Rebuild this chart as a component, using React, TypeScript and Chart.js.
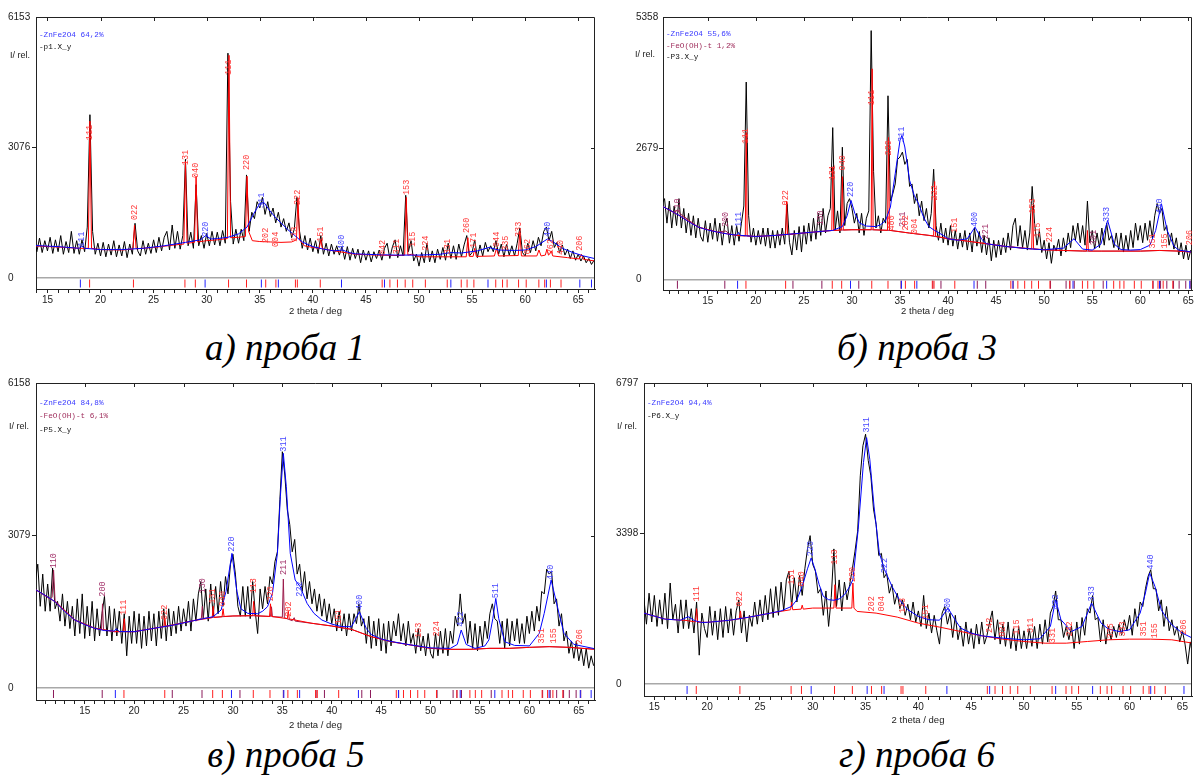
import { useEffect, useRef } from "react";
import { Chart, registerables } from "chart.js";

Chart.register(...registerables);
Chart.defaults.font.family = '"Liberation Sans", Arial, sans-serif';

type Pt = [number, number];
type Label = [string, number, number, string];

const STEP = 0.25;

// ---------- reflection positions (2 theta, deg) ----------
const REFL_ZNFE2O4 = [18.1, 29.85, 35.15, 36.75, 42.7, 46.75, 53.0, 56.5, 62.0, 65.15, 66.25];
const REFL_PHASE2 = [18.97, 23.1, 27.95, 28.93, 32.06, 33.75, 35.56, 36.52, 38.36, 38.54, 40.7, 46.53, 47.26, 47.97, 48.7, 49.41, 50.6, 52.66, 53.98, 54.53, 55.17, 57.23, 57.87, 58.3, 59.38, 60.1, 61.29, 61.84, 62.38, 63.38];
const REFL_FEOOH = [11.84, 16.77, 23.86, 26.87, 30.71, 35.1, 38.42, 39.26, 43.04, 43.92, 46.77, 50.66, 52.28, 52.67, 53.13, 56.14, 61.34, 62.11, 62.76, 63.46, 64.04, 64.73, 65.2];

// ---------- panel a (проба 1) ----------
const A_START = 13.75;
const A_MEAS = [900,
  620, 940, 600, 880, 640, 960, 580, 900, 620, 1000, 560, 860, 600, 1100, 580, 880,
  560, 900, 620, 1200, 3850, 1100, 560, 820, 520, 840, 500, 800, 540, 880, 500, 780,
  520, 860, 480, 800, 560, 1290, 640, 520, 880, 560, 820, 580, 900, 600, 960, 640,
  960, 1100, 660, 1250, 700, 1100, 680, 1000, 2800, 760, 1080, 700, 2200, 760, 1000, 700,
  1050, 760, 1100, 780, 1080, 760, 1120, 820, 5300, 1800, 800, 1150, 820, 1150, 880, 2430,
  1100, 1550, 1400, 1800, 1650, 1900, 1500, 1800, 1450, 1650, 1300, 1550, 1200, 1400, 1100, 1300,
  950, 1150, 1900, 1100, 700, 1000, 660, 940, 620, 880, 580, 1000, 560, 820, 520, 800,
  560, 760, 540, 740, 440, 740, 420, 700, 460, 680, 360, 660, 420, 640, 380, 620,
  460, 660, 420, 700, 820, 460, 740, 900, 480, 760, 520, 1950, 620, 880, 400, 560,
  280, 600, 360, 820, 380, 640, 360, 680, 440, 720, 420, 820, 460, 760, 440, 800,
  500, 780, 1000, 520, 600, 900, 480, 780, 520, 840, 620, 760, 620, 880, 560, 800,
  500, 800, 540, 760, 520, 820, 1180, 600, 520, 820, 600, 880, 640, 960, 760, 1100,
  1200, 880, 1100, 720, 840, 600, 780, 540, 680, 460, 640, 420, 560, 400, 520, 360,
  460, 320, 420, 360];
const A_BLUE: Pt[] = [[13.9,765],[16,740],[18,700],[18.2,760],[18.5,700],[20,670],[22,670],[24,700],[26,760],[28,840],[29.4,900],[29.9,1000],[30.4,920],[31,930],[32,960],[33,1040],[33.8,1200],[34.4,1500],[35.0,1760],[35.4,1780],[35.9,1600],[36.5,1420],[37,1300],[37.6,1150],[38.3,1000],[39,850],[40,740],[41,680],[42,640],[42.8,660],[43.4,600],[44,570],[46,550],[48,540],[50,540],[52,560],[53,600],[54,590],[55.5,640],[56.6,720],[57.5,660],[59,650],[60,660],[61,740],[62.1,920],[62.6,860],[63.5,700],[64.5,600],[65.5,520],[66.6,455]];
const A_RED: Pt[] = [[13.9,755],[16,730],[18,700],[18.85,700],[19.0,3700],[19.15,700],[20,670],[22,660],[23.05,680],[23.2,1250],[23.35,690],[25,720],[27,780],[27.85,800],[28.0,2750],[28.15,820],[28.85,840],[29.0,2400],[29.15,850],[30,880],[31,900],[31.95,930],[32.1,5250],[32.25,950],[33,960],[33.65,980],[33.8,2400],[33.95,1100],[34.3,880],[35,860],[36,850],[37,840],[38,850],[38.45,900],[38.6,1880],[38.75,900],[39.2,760],[40,720],[40.6,700],[40.75,900],[40.9,690],[42,640],[44,560],[46,540],[48,530],[48.65,540],[48.8,1900],[48.95,540],[49.3,560],[50,500],[52,500],[54.45,500],[54.6,950],[54.75,510],[55.1,510],[55.25,700],[55.4,510],[57.1,520],[57.3,700],[57.5,520],[59.35,530],[59.5,1100],[59.65,520],[61.1,520],[61.3,660],[61.5,520],[61.9,540],[62.05,680],[62.2,540],[62.3,560],[62.45,640],[62.6,520],[64,480],[65.1,450],[65.3,560],[65.5,440],[66.6,400]];
const A_LABELS: Label[] = [
  ["111",18.2,730,"b"],["220",29.9,970,"b"],["311",35.2,1650,"b"],["400",42.7,660,"b"],["440",62.1,966,"b"],
  ["111",19.0,3250,"r"],["022",23.2,1367,"r"],["131",28.0,2660,"r"],["040",29.0,2357,"r"],["111",32.1,4785,"r"],["220",33.8,2546,"r"],
  ["202",35.6,825,"r"],["004",36.5,730,"r"],["113",38.3,850,"r"],["222",38.6,1720,"r"],["151",40.7,850,"r"],["042",46.6,540,"r"],
  ["311",47.9,560,"r"],["153",48.8,1956,"r"],["115",49.4,730,"r"],["224",50.6,640,"r"],["331",52.7,560,"r"],["260",54.5,1060,"r"],
  ["171",55.2,707,"r"],["044",57.3,730,"r"],["335",58.2,640,"r"],["333",59.4,966,"r"],["062",60.2,560,"r"],["262",62.45,560,"r"],
  ["440",63.4,540,"r"],["206",65.1,640,"r"]];

// ---------- panel b (проба 3) ----------
const B_START = 10.25;
const B_MEAS = [1550,
  1650, 1150, 1600, 1050, 1500, 1100, 1650, 1050, 1450, 950, 1350, 900, 1300, 850, 1250, 880,
  780, 1200, 760, 1150, 820, 1250, 780, 1150, 700, 1100, 1250, 740, 1100, 700, 1100, 780,
  1150, 1500, 4030, 1300, 760, 1050, 700, 1000, 720, 1050, 680, 1050, 640, 1000, 640, 1000,
  700, 1050, 720, 1550, 760, 500, 1000, 600, 1080, 560, 1100, 720, 1150, 780, 1250, 820,
  1350, 900, 1450, 950, 1300, 1450, 3100, 1000, 1400, 950, 2700, 1100, 1550, 1650, 1450, 1150,
  1350, 950, 1350, 900, 1250, 1400, 5080, 2200, 1050, 1300, 950, 1250, 1150, 3750, 1600, 1750,
  1950, 2450, 2500, 2600, 2350, 2450, 1900, 1950, 1550, 1750, 1300, 1600, 1200, 1450, 1050, 1350,
  2250, 1100, 800, 1150, 750, 1050, 700, 1100, 680, 1000, 620, 950, 660, 1000, 600, 950,
  560, 1050, 680, 980, 550, 900, 500, 850, 380, 800, 450, 800, 500, 850, 550, 950,
  600, 1100, 1250, 680, 1100, 650, 1000, 600, 950, 1900, 1150, 700, 1000, 550, 800, 420,
  750, 330, 700, 580, 820, 480, 850, 560, 950, 650, 1100, 800, 1150, 750, 1100, 700,
  1600, 750, 1000, 620, 950, 650, 1050, 700, 1150, 800, 900, 650, 950, 600, 950, 560,
  900, 600, 1000, 650, 1150, 800, 1100, 750, 1150, 800, 1200, 850, 1300, 1550, 1350, 1450,
  1000, 1100, 700, 950, 620, 850, 500, 750, 420, 700, 400, 600];
const B_BLUE: Pt[] = [[10.3,1490],[11,1420],[12,1310],[13,1180],[14,1070],[15,1010],[16,967],[17,930],[18,905],[18.2,960],[18.4,900],[20,878],[22,899],[24,933],[26,967],[27,985],[28,1001],[29,1080],[29.5,1300],[29.9,1614],[30.3,1350],[30.8,1150],[31.5,1090],[32.5,1080],[33,1120],[33.5,1205],[34,1478],[34.5,2159],[35,2840],[35.2,2942],[35.5,2704],[36,2023],[36.5,1700],[36.9,1560],[37.5,1250],[38,1080],[38.6,1000],[39.5,900],[40,831],[41,800],[42,830],[42.8,1069],[43.5,820],[44,729],[45,700],[46,674],[48,633],[50,606],[52,640],[53.1,831],[54,620],[55,600],[55.9,720],[56.6,1205],[57.3,720],[58,610],[59,600],[60,610],[61,700],[61.6,1000],[62.2,1546],[62.8,1000],[63.5,680],[64,600],[65.4,558]];
const B_MAROON: Pt[] = [[10.3,1490],[11.5,1370],[11.85,1420],[12.2,1330],[14,1069],[16,967],[16.9,990],[17.2,930],[18,899],[20,878],[22,899],[24,933],[26,967],[28,1001],[30,1015],[32,1015],[34,1001],[36,947],[38,899],[40,831],[42,783],[44,729],[46,674],[48,633],[50,606],[52,592],[54,579],[56,579],[58,579],[60,579],[62,592],[64,579],[65.4,558]];
const B_RED: Pt[] = [[10.3,1490],[12,1310],[14,1069],[16,967],[18,899],[18.9,890],[19.0,3000],[19.1,890],[20,878],[22,899],[23.1,915],[23.2,1600],[23.3,915],[26,967],[27.9,1000],[28.0,2300],[28.1,1000],[28.9,1010],[29.0,2100],[29.1,1010],[30,1015],[32.0,1015],[32.1,4300],[32.2,1015],[33.7,1003],[33.8,2900],[33.9,1003],[36,947],[38.5,890],[38.6,2000],[38.7,885],[40,831],[42,783],[44,729],[46,674],[48,640],[48.7,625],[48.8,1500],[48.9,625],[50,606],[52,592],[54.4,580],[54.5,1000],[54.6,580],[56,579],[60,579],[62,592],[64,579],[65.4,558]];
const B_LABELS: Label[] = [
  ["110",11.85,1341,"p"],["200",16.9,1069,"p"],["130",26.8,1100,"p"],["211",35.3,1070,"p"],["221",43.9,820,"p"],["301",55.2,700,"p"],
  ["111",19.0,2772,"r"],["022",23.15,1512,"r"],["131",28.0,2023,"r"],["040",29.0,2227,"r"],["111",32.1,3555,"r"],["220",33.8,2533,"r"],
  ["400",34.1,1000,"r"],["202",35.6,1000,"r"],["004",36.5,930,"r"],["222",38.6,1614,"r"],["151",40.7,950,"r"],["153",48.8,1341,"r"],
  ["115",49.3,850,"r"],["224",50.6,760,"r"],["351",61.3,630,"r"],["155",62.5,630,"r"],["206",65.1,700,"r"],
  ["111",18.2,1069,"b"],["220",29.9,1682,"b"],["311",35.2,2806,"b"],["400",42.8,1069,"b"],["333",56.5,1171,"b"],["440",62.0,1340,"b"]];

// ---------- panel c (проба 5) ----------
const C_START = 10.0;
const C_MEAS = [2150,
  2500, 1650, 2300, 1550, 2100, 1550, 2420, 1600, 1750, 1350, 1900, 1250, 1750, 1200, 1650, 1050,
  1800, 1100, 1900, 1000, 1650, 1050, 1750, 950, 1600, 1050, 1500, 1850, 1050, 1650, 950, 1600,
  1050, 1550, 900, 1500, 650, 1450, 900, 1550, 900, 1500, 800, 1450, 850, 1550, 950, 1500,
  850, 1550, 1000, 1600, 950, 1600, 1050, 1550, 1100, 1650, 1150, 1600, 1250, 1750, 1150, 1800,
  1350, 1900, 2150, 1400, 2000, 1350, 2100, 1450, 2050, 1500, 2150, 1650, 2250, 1900, 2500, 2700,
  2300, 1650, 1450, 2050, 1450, 2050, 1400, 2150, 1550, 1100, 2000, 1600, 2050, 1700, 2250, 2100,
  2550, 2750, 3800, 4770, 4300, 3600, 3300, 2750, 3000, 2300, 2500, 1950, 2350, 1800, 2150, 1700,
  2000, 1550, 1900, 1450, 1800, 1350, 1700, 1300, 1600, 1150, 1550, 1150, 1500, 1050, 1500, 1150,
  1500, 1300, 1700, 1250, 1400, 900, 1450, 800, 1350, 850, 1400, 750, 1300, 700, 1350, 850,
  1350, 1050, 1500, 950, 1300, 850, 1350, 900, 1100, 700, 1200, 750, 1050, 650, 1100, 700,
  600, 1100, 650, 1150, 700, 1200, 650, 1150, 900, 1450, 1250, 1900, 1300, 1500, 900, 1350,
  800, 1300, 750, 1250, 850, 1350, 1000, 1500, 1700, 1400, 1350, 900, 1350, 800, 1400, 850,
  1350, 950, 1400, 900, 1300, 900, 1450, 1100, 1550, 1150, 1650, 1350, 1950, 1900, 2400, 2300,
  2350, 1700, 1800, 1250, 1500, 950, 1150, 700, 950, 600, 950, 550, 800, 450, 800, 400,
  650, 450];
const C_BLUE: Pt[] = [[10.0,1990],[11,1870],[12,1743],[13,1540],[14,1373],[15,1280],[16,1205],[17,1160],[18,1150],[18.2,1200],[18.5,1140],[20,1137],[22,1205],[24,1272],[26,1359],[27,1400],[28,1440],[28.8,1575],[29.3,1950],[29.9,2719],[30.4,1950],[30.8,1600],[31.5,1507],[32.5,1500],[33,1550],[33.5,1642],[34,1911],[34.5,2719],[34.8,3863],[35.1,4738],[35.4,4065],[35.8,2719],[36.3,2180],[36.8,2046],[37.5,1709],[38.2,1507],[39,1373],[40,1290],[41,1240],[42,1238],[42.8,1541],[43.5,1200],[44,1080],[45,990],[46,940],[48,870],[50,810],[52,800],[52.7,880],[53.1,1171],[53.6,880],[54.5,800],[55.5,850],[55.9,970],[56.3,1400],[56.6,1810],[56.9,1400],[57.5,935],[58.5,860],[60,850],[61,1104],[61.5,1507],[62.2,2180],[63,1507],[63.5,1104],[64.5,880],[66.7,790]];
const C_MAROON: Pt[] = [[10.0,1990],[11.5,1800],[11.7,1830],[11.85,2380],[12.0,1760],[13,1560],[14,1373],[16,1210],[16.7,1190],[16.8,1700],[16.9,1180],[18,1137],[20,1137],[22,1205],[24,1272],[26,1359],[26.8,1400],[26.9,1650],[27.0,1405],[28,1427],[30,1454],[32,1460],[33.8,1445],[33.9,1640],[34.0,1440],[35.0,1430],[35.1,2200],[35.2,1420],[36,1359],[36.2,1420],[36.3,1350],[38,1306],[40,1252],[42,1184],[44,1036],[46,935],[48,868],[50,801],[52,781],[54,781],[56,801],[58,801],[60,821],[62,835],[64,821],[66.7,781]];
const C_RED: Pt[] = [[10.0,1990],[12,1743],[14,1373],[16,1205],[18,1137],[18.9,1140],[19.0,1400],[19.1,1137],[20,1137],[22,1205],[23.0,1240],[23.1,1420],[23.2,1245],[26,1359],[27.9,1420],[28.0,1650],[28.1,1425],[28.9,1440],[29.0,1600],[29.1,1445],[30,1454],[32.0,1460],[32.1,1750],[32.2,1460],[33.7,1445],[33.8,1700],[33.9,1445],[35.5,1400],[35.6,1550],[35.7,1395],[38,1306],[40,1252],[42,1184],[44,1036],[46,935],[48,868],[50,801],[52,781],[54,781],[56,801],[58,801],[60,821],[62,835],[64,821],[66.7,781]];
const C_LABELS: Label[] = [
  ["110",11.85,2416,"p"],["200",16.8,1844,"p"],["130",26.9,1911,"p"],["211",35.1,2281,"p"],
  ["111",19.0,1474,"r"],["022",23.1,1373,"r"],["131",28.0,1700,"r"],["040",29.0,1650,"r"],["113",32.1,1911,"r"],["220",33.8,1750,"r"],
  ["202",35.6,1440,"r"],["151",40.7,1280,"r"],["153",48.8,1010,"r"],["224",50.6,1040,"r"],["351",61.3,900,"r"],["155",62.5,900,"r"],["206",65.1,880,"r"],
  ["220",29.9,2753,"b"],["311",35.1,4772,"b"],["222",36.8,1844,"b"],["400",42.8,1575,"b"],["422",53.1,1238,"b"],["511",56.6,1810,"b"],["440",62.2,2180,"b"]];

// ---------- panel d (проба 6) ----------
const D_START = 14.0;
const D_MEAS = [
  1950, 1350, 2050, 1400, 2000, 1300, 1900, 1350, 2050, 1250, 2280, 1450, 1800, 1150, 1900, 1250,
  1900, 1250, 1700, 1150, 1850, 650, 1600, 1250, 1050, 1750, 1100, 1650, 1000, 1700, 1050, 1750,
  1150, 1700, 1100, 1650, 1900, 1150, 1650, 950, 1550, 1300, 1850, 1350, 1900, 1400, 2000, 1450,
  2150, 1500, 2200, 1550, 2300, 1650, 2350, 2550, 1750, 2400, 1850, 2450, 2000, 2600, 3050, 3350,
  2700, 2550, 2050, 2150, 1550, 2100, 1300, 1950, 3050, 1750, 2350, 1650, 2300, 1900, 2250, 2600,
  3000, 3450, 4700, 5380, 5640, 5050, 4700, 3950, 3600, 2900, 2950, 2400, 2500, 2050, 2250, 1800,
  2050, 1700, 1900, 1550, 1800, 1450, 1850, 1400, 1650, 1300, 2000, 1250, 1600, 1150, 1550, 1200,
  900, 1600, 1750, 1350, 1600, 1050, 1550, 1000, 1300, 850, 1400, 900, 1250, 800, 1350, 900,
  1400, 900, 1100, 1400, 1650, 1000, 1450, 900, 1350, 850, 1400, 800, 1250, 750, 1300, 800,
  1200, 800, 1250, 850, 1300, 800, 1350, 900, 1450, 950, 1600, 1750, 2100, 1450, 1450, 1050,
  1300, 1000, 1300, 800, 1400, 900, 1500, 1100, 1700, 1600, 2000, 1450, 1500, 950, 1450, 900,
  1300, 1000, 1300, 1050, 1350, 1100, 1450, 1200, 1550, 1100, 1700, 1300, 1850, 1750, 2150, 2430,
  2580, 2150, 2150, 1650, 1900, 1300, 1750, 1200, 1450, 1100, 1300, 950, 1200, 900, 450, 950,
  600];
const D_BLUE: Pt[] = [[14,1600],[16,1465],[17.5,1440],[18.2,1520],[18.8,1430],[19.5,1389],[20,1392],[22,1435],[24,1510],[26,1600],[27,1650],[28,1752],[28.5,1903],[29,2205],[29.5,2600],[29.85,2846],[30.2,2600],[30.6,2250],[31,1978],[31.5,1903],[32,1890],[32.5,1920],[33,2016],[33.5,2200],[33.8,2356],[34.3,3488],[34.8,4998],[35.1,5564],[35.4,5074],[35.8,4017],[36.3,2960],[36.8,2582],[37.5,2205],[38.2,1903],[39,1676],[40,1525],[41,1450],[42,1440],[42.8,1714],[43.5,1440],[44,1261],[45,1148],[46,1087],[48,1034],[50,997],[51.5,1020],[52.5,1299],[53,1903],[53.5,1450],[54.5,1185],[55.5,1299],[56.4,1827],[57.3,1374],[58,1238],[59,1185],[60,1223],[61,1600],[61.5,2054],[61.9,2507],[62.4,2205],[63,1676],[63.5,1487],[64,1336],[65,1148],[66,1030]];
const D_RED: Pt[] = [[14,1600],[16,1465],[18,1435],[18.9,1400],[19.0,1700],[19.1,1395],[20,1392],[22,1435],[23.05,1470],[23.15,1650],[23.25,1475],[24,1510],[26,1600],[27.9,1676],[28.0,1850],[28.1,1676],[28.9,1690],[29.0,1780],[29.1,1690],[30,1714],[32.0,1714],[32.1,2242],[32.2,1714],[33.7,1714],[33.8,2280],[33.9,1714],[34.2,1638],[36,1600],[38,1510],[40,1374],[42,1284],[44,1185],[46,1087],[48,1012],[50,959],[52,921],[54,921],[56,959],[58,997],[60,1012],[62,1012],[64,997],[66,921]];
const D_LABELS: Label[] = [
  ["111",19.0,1865,"r"],["022",23.1,1752,"r"],["131",28.0,2242,"r"],["040",29.0,2200,"r"],["113",32.1,2695,"r"],["220",33.8,2300,"r"],
  ["202",35.6,1638,"r"],["004",36.5,1638,"r"],["113",38.5,1600,"r"],["151",40.7,1450,"r"],["242",46.8,1150,"r"],["024",48.0,1070,"r"],
  ["115",49.3,1110,"r"],["311",50.6,1150,"r"],["331",52.7,920,"r"],["242",54.3,1070,"r"],["335",58.2,1030,"r"],["333",59.4,1070,"r"],
  ["351",61.3,1070,"r"],["155",62.4,1030,"r"],["206",65.1,1110,"r"],
  ["220",29.85,2884,"b"],["311",35.1,5678,"b"],["222",36.8,2500,"b"],["400",42.8,1600,"b"],["422",53.0,1676,"b"],["333",56.4,1865,"b"],["440",62.0,2582,"b"]];

// ---------- axes ----------
const A_YTICKS = [0, 3076, 6153];
const B_YTICKS = [0, 2679, 5358];
const C_YTICKS = [0, 3079, 6158];
const D_YTICKS = [0, 3398, 6797];

const COL_BLUE_LINE = "#0000ff";
const COL_RED_LINE = "#ff0000";
const COL_MAROON_LINE = "#9b1b4b";
const COL_BLUE_TXT = "#4646ff";
const COL_RED_TXT = "#ff3838";
const COL_PURPLE_TXT = "#a3336b";
const LABEL_COLORS: Record<string, string> = { b: COL_BLUE_TXT, r: COL_RED_TXT, p: COL_PURPLE_TXT };

interface PanelDef {
  left: number; top: number; width: number; height: number;
  padL: number; padR: number; padT: number; yW: number; xH: number; yPad: number;
  xMin: number; xMax: number; yMin: number; yMax: number; yTicks: number[];
  start: number; measured: number[];
  blue: Pt[]; red: Pt[]; maroon?: Pt[];
  refl: { xs: number[]; color: string }[];
  labels: Label[];
  legend: { text: string; color: string }[];
  legendY: number; legendDy: number; relDx: number; relDy: number;
}

const PANELS: PanelDef[] = [
  {
    left: 0, top: 0, width: 600, height: 320, padL: 8, padR: 4, padT: 17, yW: 28, xH: 31, yPad: 2,
    xMin: 13.92, xMax: 66.58, yMin: -259, yMax: 6153, yTicks: A_YTICKS,
    start: A_START, measured: A_MEAS, blue: A_BLUE, red: A_RED,
    refl: [{ xs: REFL_ZNFE2O4, color: "#2020ff" }, { xs: REFL_PHASE2, color: "#ff2020" }],
    labels: A_LABELS,
    legend: [{ text: "-ZnFe2O4 64,2%", color: "#3a3aff" }, { text: "-p1.X_y", color: "#111" }],
    legendY: 18, legendDy: 11.7, relDx: -6, relDy: 39,
  },
  {
    left: 600, top: 0, width: 597, height: 320, padL: 36, padR: 2, padT: 17, yW: 27, xH: 30, yPad: 1,
    xMin: 10.34, xMax: 65.38, yMin: -215, yMax: 5358, yTicks: B_YTICKS,
    start: B_START, measured: B_MEAS, blue: B_BLUE, red: B_RED, maroon: B_MAROON,
    refl: [{ xs: REFL_ZNFE2O4, color: "#2020ff" }, { xs: REFL_PHASE2, color: "#ff2020" }, { xs: REFL_FEOOH, color: "#8b1a5a" }],
    labels: B_LABELS,
    legend: [{ text: "-ZnFe2O4 55,6%", color: "#3a3aff" }, { text: "-FeO(OH)-t 1,2%", color: "#a0305e" }, { text: "-P3.X_y", color: "#111" }],
    legendY: 17.3, legendDy: 11.5, relDx: -8, relDy: 38,
  },
  {
    left: 0, top: 370, width: 600, height: 364, padL: 8, padR: 2, padT: 13, yW: 28, xH: 34, yPad: 2,
    xMin: 10.07, xMax: 66.64, yMin: -242, yMax: 6158, yTicks: C_YTICKS,
    start: C_START, measured: C_MEAS, blue: C_BLUE, red: C_RED, maroon: C_MAROON,
    refl: [{ xs: REFL_ZNFE2O4, color: "#2020ff" }, { xs: REFL_PHASE2, color: "#ff2020" }, { xs: REFL_FEOOH, color: "#8b1a5a" }],
    labels: C_LABELS,
    legend: [{ text: "-ZnFe2O4 84,8%", color: "#3a3aff" }, { text: "-FeO(OH)-t 6,1%", color: "#a0305e" }, { text: "-P5.X_y", color: "#111" }],
    legendY: 20, legendDy: 13.4, relDx: -7, relDy: 44,
  },
  {
    left: 597, top: 370, width: 600, height: 359, padL: 19, padR: 3, padT: 13, yW: 28, xH: 33, yPad: 2,
    xMin: 14.02, xMax: 65.91, yMin: -272, yMax: 6797, yTicks: D_YTICKS,
    start: D_START, measured: D_MEAS, blue: D_BLUE, red: D_RED,
    refl: [{ xs: REFL_ZNFE2O4, color: "#2020ff" }, { xs: REFL_PHASE2, color: "#ff2020" }],
    labels: D_LABELS,
    legend: [{ text: "-ZnFe2O4 94,4%", color: "#3a3aff" }, { text: "-P6.X_y", color: "#111" }],
    legendY: 20, legendDy: 13, relDx: -7, relDy: 44,
  },
];

const CAPTIONS = [
  { text: "а) проба 1", x: 285, y: 328 },
  { text: "б) проба 3", x: 917, y: 328 },
  { text: "в) проба 5", x: 286, y: 735 },
  { text: "г) проба 6", x: 917, y: 735 },
];

function XrdPanel({ p }: { p: PanelDef }) {
  const ref = useRef<HTMLCanvasElement>(null);
  useEffect(() => {
    const canvas = ref.current;
    if (!canvas) return;
    const toXY = (arr: Pt[]) => arr.map(([x, y]) => ({ x, y }));
    const measuredPts = p.measured.map((v, i) => ({ x: p.start + i * STEP, y: v }));
    const stripY = p.yMin / 2;
    const datasets: any[] = [];
    datasets.push({ type: "line", data: toXY(p.blue), borderColor: COL_BLUE_LINE, borderWidth: 1, pointRadius: 0, tension: 0 });
    datasets.push({ type: "line", data: toXY(p.red), borderColor: COL_RED_LINE, borderWidth: 1, pointRadius: 0, tension: 0 });
    if (p.maroon) datasets.push({ type: "line", data: toXY(p.maroon), borderColor: COL_MAROON_LINE, borderWidth: 1, pointRadius: 0, tension: 0 });
    datasets.push({ type: "line", data: measuredPts, borderColor: "#000", borderWidth: 1, pointRadius: 0, tension: 0 });
    p.refl.forEach((r) => {
      datasets.push({
        type: "scatter",
        data: r.xs.map((x) => ({ x, y: stripY })),
        pointStyle: "line", rotation: 90, pointRadius: 4, pointHoverRadius: 4,
        borderColor: r.color, pointBorderColor: r.color, backgroundColor: r.color,
        borderWidth: 1, pointBorderWidth: 1, showLine: false,
      });
    });

    const overlay = {
      id: "xrdOverlay",
      afterDraw(chart: any) {
        const { ctx, chartArea: a } = chart;
        const xs = chart.scales.x;
        const ys = chart.scales.y;
        ctx.save();
        ctx.strokeStyle = "#222";
        ctx.lineWidth = 1;
        ctx.beginPath();
        ctx.moveTo(a.left, a.top + 0.5);
        ctx.lineTo(a.right - 0.5, a.top + 0.5);
        ctx.lineTo(a.right - 0.5, a.bottom);
        for (let v = Math.ceil(xs.min / 5) * 5; v <= xs.max; v += 5) {
          const px = Math.round(xs.getPixelForValue(v)) + 0.5;
          ctx.moveTo(px, a.top);
          ctx.lineTo(px, a.top + 4);
        }
        const my = Math.round(ys.getPixelForValue(p.yTicks[1])) + 0.5;
        ctx.moveTo(a.right, my);
        ctx.lineTo(a.right - 4, my);
        ctx.stroke();

        ctx.font = '8.5px "Liberation Mono", "DejaVu Sans Mono", monospace';
        ctx.textBaseline = "middle";
        ctx.textAlign = "left";
        for (const [t, lx, ly, k] of p.labels) {
          const px = xs.getPixelForValue(lx);
          const py = ys.getPixelForValue(ly);
          ctx.save();
          ctx.translate(px, py);
          ctx.rotate(-Math.PI / 2);
          ctx.fillStyle = LABEL_COLORS[k];
          ctx.fillText(t, 0, 0);
          ctx.restore();
        }

        ctx.font = '7.7px "Liberation Mono", "DejaVu Sans Mono", monospace';
        p.legend.forEach((l, i) => {
          ctx.fillStyle = l.color;
          ctx.fillText(l.text, a.left + 3, a.top + p.legendY + i * p.legendDy);
        });

        ctx.font = '9px "Liberation Sans", Arial, sans-serif';
        ctx.textAlign = "right";
        ctx.fillStyle = "#222";
        ctx.fillText("I/ rel.", a.left + p.relDx, a.top + p.relDy);
        ctx.restore();
      },
    };

    const chart = new Chart(canvas, {
      type: "line",
      data: { datasets },
      options: {
        responsive: false,
        animation: false,
        devicePixelRatio: 1,
        events: [],
        layout: { padding: { left: p.padL, right: p.padR, top: p.padT, bottom: 0 } },
        plugins: { legend: { display: false }, tooltip: { enabled: false } },
        scales: {
          x: {
            type: "linear",
            position: "bottom",
            min: p.xMin,
            max: p.xMax,
            afterBuildTicks: (s: any) => {
              const t: { value: number }[] = [];
              for (let v = Math.ceil(p.xMin); v <= Math.floor(p.xMax); v++) t.push({ value: v });
              s.ticks = t;
            },
            afterFit: (s: any) => { s.height = p.xH; },
            ticks: {
              autoSkip: false, maxRotation: 0, minRotation: 0, padding: 1, color: "#222",
              font: { size: 10 },
              callback: (v: any) => (Number(v) % 5 === 0 ? String(v) : ""),
            },
            grid: { drawOnChartArea: false, drawTicks: true, tickLength: 4, color: "#222", tickColor: "#222" },
            border: { display: true, color: "#222", width: 1 },
            title: { display: true, text: "2 theta / deg", color: "#222", font: { size: 9.5 }, padding: { top: 0, bottom: 3 } },
          },
          y: {
            type: "linear",
            min: p.yMin,
            max: p.yMax,
            afterBuildTicks: (s: any) => { s.ticks = p.yTicks.map((v) => ({ value: v })); },
            afterFit: (s: any) => { s.width = p.yW; },
            ticks: { crossAlign: "far", padding: p.yPad, color: "#222", font: { size: 10 }, callback: (v: any) => String(v) },
            grid: {
              drawOnChartArea: true,
              drawTicks: true,
              tickLength: 4,
              color: (c: any) => (c.tick && c.tick.value === 0 ? "#a8a8a8" : "rgba(0,0,0,0)"),
              lineWidth: (c: any) => (c.tick && c.tick.value === 0 ? 1.5 : 1),
              tickColor: (c: any) => (c.tick && c.tick.value === p.yTicks[1] ? "#222" : "rgba(0,0,0,0)"),
            },
            border: { display: true, color: "#222", width: 1 },
          },
        },
      } as any,
      plugins: [overlay],
    });
    return () => chart.destroy();
  }, [p]);
  return (
    <canvas
      ref={ref}
      width={p.width}
      height={p.height}
      style={{ position: "absolute", left: p.left, top: p.top, width: p.width, height: p.height, display: "block" }}
    />
  );
}

export default function App() {
  return (
    <div style={{ position: "absolute", left: 0, top: 0, width: 1197, height: 776, background: "#fff", overflow: "hidden" }}>
      {PANELS.map((p, i) => (
        <XrdPanel key={i} p={p} />
      ))}
      {CAPTIONS.map((c, i) => (
        <div
          key={i}
          style={{
            position: "absolute", left: c.x, top: c.y, transform: "translateX(-50%)",
            fontFamily: '"Liberation Serif", "Times New Roman", serif', fontStyle: "italic",
            fontSize: 37, lineHeight: "40px", whiteSpace: "nowrap", color: "#000",
          }}
        >
          {c.text}
        </div>
      ))}
    </div>
  );
}
